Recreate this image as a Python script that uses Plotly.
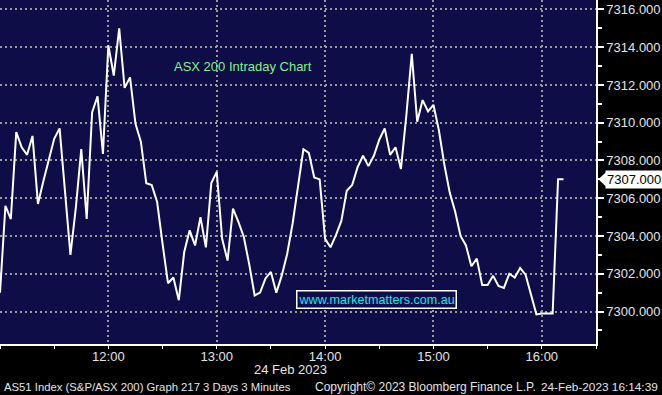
import plotly.graph_objects as go
import pandas as pd

# ---- data ----
start_time = "2023-02-24 11:00"
interval_minutes = 3
asx200 = [
    7301.0, 7305.6, 7304.9, 7309.5, 7308.7, 7308.3, 7309.3, 7305.7, 7306.9, 7308.0,
    7309.15, 7309.7, 7306.2, 7303.0, 7305.5, 7308.6, 7304.9, 7310.55, 7311.4, 7308.35,
    7314.1, 7312.5, 7315.0, 7311.85, 7312.4, 7309.95, 7309.0, 7306.8, 7306.7, 7305.8,
    7303.6, 7301.5, 7301.8, 7300.6, 7303.15, 7304.3, 7303.5, 7305.0, 7303.4, 7306.8,
    7307.4, 7303.85, 7302.7, 7305.45, 7304.75, 7303.95, 7302.5, 7300.85, 7301.0, 7301.75,
    7302.1, 7301.0, 7301.9, 7303.05, 7304.65, 7306.6, 7308.6, 7308.4, 7307.1, 7307.0,
    7303.85, 7303.4, 7304.05, 7304.8, 7306.4, 7306.7, 7307.65, 7308.25, 7307.7, 7308.25,
    7309.1, 7309.7, 7308.3, 7308.7, 7307.55, 7310.4, 7313.65, 7310.05, 7311.2, 7310.6,
    7310.95, 7309.6, 7307.8, 7306.3, 7305.3, 7304.0, 7303.5, 7302.4, 7302.8, 7301.4,
    7301.4, 7301.9, 7301.35, 7301.25, 7302.0, 7301.8, 7302.3, 7301.95, 7300.9, 7299.85,
    7299.9, 7299.9, 7299.9, 7307.0, 7307.0,
]
times = pd.date_range(start_time, periods=len(asx200), freq=f"{interval_minutes}min")

y_ticks = [7300, 7302, 7304, 7306, 7308, 7310, 7312, 7314, 7316]
y_ticktext = [f"{v:.3f}" for v in y_ticks]
x_ticks = ["2023-02-24 12:00", "2023-02-24 13:00", "2023-02-24 14:00",
           "2023-02-24 15:00", "2023-02-24 16:00"]
x_ticktext = ["12:00", "13:00", "14:00", "15:00", "16:00"]
x_range = ["2023-02-24 11:00", "2023-02-24 16:30"]
y_range = [7298.28, 7316.5]

title_text = "ASX 200 Intraday Chart"
watermark = "www.marketmatters.com.au"
date_label = "24 Feb 2023"
footer_left = "AS51 Index (S&P/ASX 200) Graph 217 3 Days 3 Minutes"
footer_mid = "Copyright\u00a9 2023 Bloomberg Finance L.P."
footer_right = "24-Feb-2023 16:14:39"

# ---- styles ----
BG = "#0f0d47"
GRID = "#9a9a9a"
FONT = "Liberation Sans, Arial, sans-serif"
TXT = "#e4e4e4"
PLOT_W, PLOT_H = 596, 344

def px(x):
    return x / PLOT_W

def py(y):
    return (PLOT_H - y) / PLOT_H

fig = go.Figure()
fig.add_trace(go.Scatter(x=times, y=asx200, mode="lines",
                         line=dict(color="white", width=2), hoverinfo="skip"))

last = asx200[-1]

fig.update_layout(
    width=662, height=395,
    margin=dict(l=0, r=662 - PLOT_W, t=0, b=395 - PLOT_H),
    paper_bgcolor="black", plot_bgcolor=BG,
    showlegend=False,
    font=dict(family=FONT, size=13, color=TXT),
    xaxis=dict(
        range=x_range, type="date",
        tickvals=x_ticks, ticktext=x_ticktext,
        showgrid=True, gridcolor=GRID, gridwidth=2, griddash="2px,3px",
        ticks="outside", ticklen=3, tickcolor="white",
        ticklabelstandoff=-3,
        minor=dict(dtick=1800000, tick0="2023-02-24 11:00", ticks="outside",
                   ticklen=3, tickcolor="white", showgrid=False),
        showline=True, linecolor="white", linewidth=1.5,
        tickfont=dict(size=13, color=TXT), zeroline=False,
    ),
    yaxis=dict(
        range=y_range, side="right",
        tickvals=y_ticks, ticktext=y_ticktext,
        showgrid=True, gridcolor=GRID, gridwidth=2, griddash="2px,3px",
        ticks="outside", ticklen=6, tickwidth=2, tickcolor="white",
        minor=dict(dtick=1, tick0=7299, ticks="outside", ticklen=4,
                   tickcolor="white", showgrid=False),
        showline=True, linecolor="white", linewidth=1.5,
        tickfont=dict(size=13, color=TXT), zeroline=False,
    ),
)

ann = []
ann.append(dict(text=title_text, xref="paper", yref="paper", x=px(243), y=py(66),
                xanchor="center", yanchor="middle",
                showarrow=False, font=dict(size=13, color="#86f086")))
ann.append(dict(text=watermark, xref="paper", yref="paper", x=px(376.5), y=py(299),
                xanchor="center", yanchor="middle",
                showarrow=False, font=dict(size=12.6, color="#19e6f0"),
                bordercolor="white", borderwidth=1.5, borderpad=1, bgcolor=BG))
ann.append(dict(text=date_label, xref="paper", yref="paper", x=px(290), y=py(370),
                xanchor="center", yanchor="middle",
                showarrow=False, font=dict(size=13, color=TXT)))
ann.append(dict(text=footer_left, xref="paper", yref="paper", x=px(2), y=py(387),
                xanchor="left", yanchor="middle",
                showarrow=False, font=dict(size=11.3, color=TXT)))
ann.append(dict(text=footer_mid, xref="paper", yref="paper", x=px(313), y=py(387),
                xanchor="left", yanchor="middle",
                showarrow=False, font=dict(size=12, color=TXT)))
ann.append(dict(text=footer_right, xref="paper", yref="paper", x=px(660), y=py(387),
                xanchor="right", yanchor="middle",
                showarrow=False, font=dict(size=11.8, color=TXT)))
ann.append(dict(text=f"{last:.3f}", xref="paper", yref="y", x=1.0, y=last,
                xshift=9, xanchor="left", yanchor="middle", showarrow=False,
                font=dict(size=13, color="black"), bgcolor="white", borderpad=1))
fig.update_layout(annotations=ann)

# pointer triangle of the last-value label
fig.add_shape(type="path", xref="paper", yref="y",
              path=f"M 1.004,{last} L 1.018,{last + 0.42} L 1.018,{last - 0.42} Z",
              fillcolor="white", line=dict(width=0))

fig.write_html("out.html")
